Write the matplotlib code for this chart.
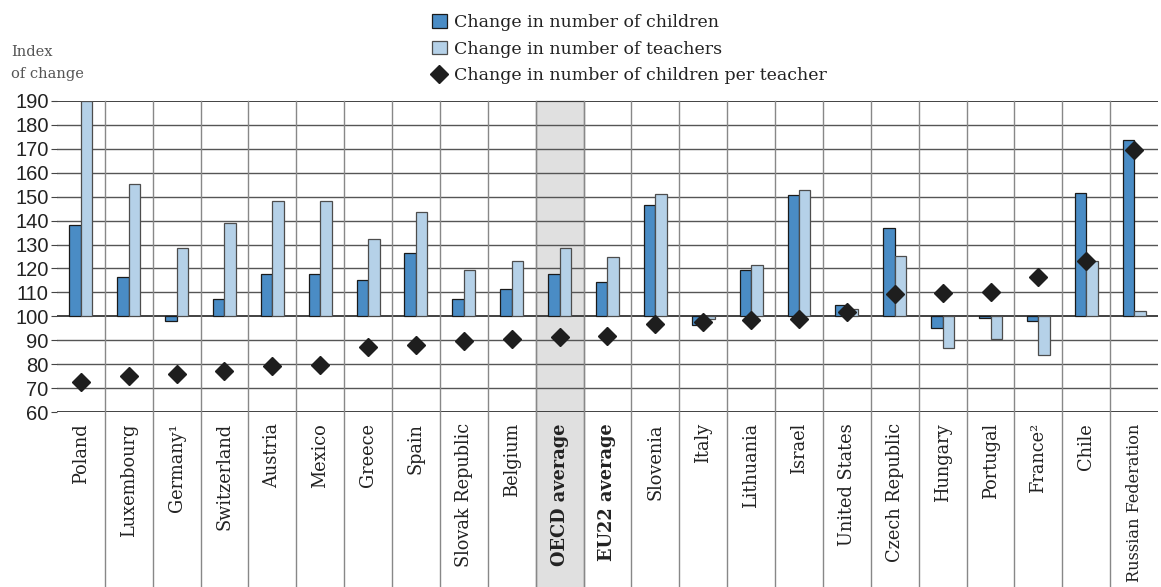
import matplotlib.pyplot as plt
import matplotlib.transforms as mtransforms
from matplotlib.patches import Patch, Rectangle
from matplotlib.lines import Line2D
import numpy as np

countries = ["Poland", "Luxembourg", "Germany¹", "Switzerland", "Austria", "Mexico",
             "Greece", "Spain", "Slovak Republic", "Belgium", "OECD average",
             "EU22 average", "Slovenia", "Italy", "Lithuania", "Israel",
             "United States", "Czech Republic", "Hungary", "Portugal", "France²",
             "Chile", "Russian Federation"]
children = [138.0, 116.3, 98.1, 107.4, 117.5, 117.9, 115.3, 126.5, 107.4, 111.5, 117.8,
            114.4, 146.5, 96.5, 119.4, 150.8, 104.7, 136.9, 95.0, 99.2, 98.2, 151.4, 173.6]
teachers = [190.0, 155.1, 128.5, 139.0, 148.2, 148.2, 132.2, 143.5, 119.4, 123.2, 128.6,
            124.9, 151.0, 98.9, 121.3, 152.6, 102.9, 125.1, 86.7, 90.7, 84.0, 123.1, 102.4]
per_teacher = [72.6, 74.9, 76.1, 77.1, 79.3, 79.6, 87.2, 88.1, 89.9, 90.4, 91.5,
               91.8, 96.9, 97.8, 98.3, 98.8, 101.9, 109.4, 109.6, 110.1, 116.5, 123.2, 169.7]
bold_labels = ["OECD average", "EU22 average"]

c_dark = "#4a8cc5"
c_light = "#b5d1e8"
serif = ["DejaVu Serif"]

fig = plt.figure(figsize=(11.61, 5.87), dpi=100)
ax = fig.add_axes([0.049, 0.298, 0.9485, 0.530])

x = np.arange(len(countries))
w = 0.24
base = 100

# shaded OECD column, runs down through the label area
trans = mtransforms.blended_transform_factory(ax.transData, ax.transAxes)
oi = countries.index("OECD average")
ax.add_patch(Rectangle((oi - 0.5, -0.57), 1, 1.57, transform=trans, facecolor="#e0e0e0",
                       edgecolor="#999999", lw=1, clip_on=False, zorder=0))

# horizontal grid
for yv in range(60, 191, 10):
    ax.axhline(yv, color="#333333" if yv in (60, 100, 190) else "#555555",
               lw=1.3 if yv in (60, 100, 190) else 1.0, zorder=1)

# column dividers
for xv in x[:-1] + 0.5:
    ax.axvline(xv, ymin=-0.57, ymax=1, color="#888888", lw=1, clip_on=False, zorder=1)

ax.bar(x - w / 2, np.array(children) - base, w, bottom=base, color=c_dark,
       edgecolor="#1a1a1a", lw=0.9, zorder=3)
ax.bar(x + w / 2, np.array(teachers) - base, w, bottom=base, color=c_light,
       edgecolor="#4d4d4d", lw=0.9, zorder=3)
ax.plot(x, per_teacher, "D", color="#1e1e1e", ms=9.5, zorder=4)

ax.set_xlim(-0.5, len(countries) - 0.5)
ax.set_ylim(60, 190)
ax.set_yticks(range(60, 191, 10))
ax.tick_params(axis="y", length=4, color="#444444", labelsize=14.5, pad=2)
for lab in ax.get_yticklabels():
    lab.set_family(["Liberation Sans", "DejaVu Sans"])
    lab.set_color("#222222")

ax.set_xticks(x)
ax.set_xticklabels(countries, rotation=90, va="top", ha="center", fontsize=12.8,
                   family=serif, color="#222222")
for lab in ax.get_xticklabels():
    if lab.get_text() in bold_labels:
        lab.set_fontweight("bold")
    if lab.get_text() == "Russian Federation":
        lab.set_fontsize(11.6)  # longest label, keep it inside the figure
ax.tick_params(axis="x", length=0, pad=8)

for s in ax.spines.values():
    s.set_visible(False)
ax.patch.set_alpha(0)

fig.text(0.0095, 0.911, "Index", fontsize=10.5, family=serif, color="#555555", va="center")
fig.text(0.0095, 0.874, "of change", fontsize=10.5, family=serif, color="#555555", va="center")

handles = [Patch(facecolor=c_dark, edgecolor="#1a1a1a", lw=0.9),
           Patch(facecolor=c_light, edgecolor="#4d4d4d", lw=0.9),
           Line2D([], [], marker="D", color="#1e1e1e", ls="none", ms=9.5)]
labels = ["Change in number of children", "Change in number of teachers",
          "Change in number of children per teacher"]
fig.legend(handles, labels, loc="upper left", bbox_to_anchor=(0.366, 0.988), frameon=False,
           prop={"family": serif, "size": 12.5}, handlelength=0.85, handleheight=0.85,
           handletextpad=0.4, labelspacing=0.55, borderaxespad=0, labelcolor="#222222")

fig.savefig("out.png", dpi=100)
